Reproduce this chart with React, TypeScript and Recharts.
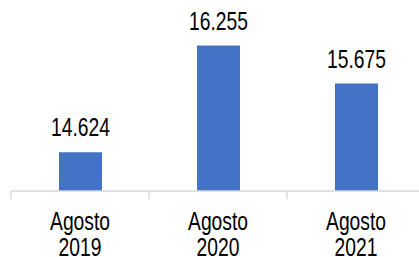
import React from 'react';
import { BarChart, Bar, XAxis, YAxis, LabelList } from 'recharts';

const categories = ['Agosto 2019', 'Agosto 2020', 'Agosto 2021'];
const values = [14624, 16255, 15675];

const data = categories.map((name, i) => ({ name, value: values[i] }));

const FONT = '"Liberation Sans", Arial, sans-serif';
const SQUEEZE = 0.77;
const AXIS_GRAY = '#d9d9d9';

const fmt = (v: any) => String(v).replace(/\B(?=(\d{3})+(?!\d))/g, '.');

// category label plus the boundary tick marks of each band
const CategoryTick = (props: any) => {
    const { x, y, payload, index, visibleTicksCount } = props;
    const half = payload.offset || 0;
    const lines = String(payload.value).split(' ');
    const isLast = index === visibleTicksCount - 1;
    return (
        <g>
            <line x1={x - half} x2={x - half} y1={y} y2={y + 8} stroke={AXIS_GRAY} strokeWidth={1.5} />
            {isLast && <line x1={x + half} x2={x + half} y1={y} y2={y + 8} stroke={AXIS_GRAY} strokeWidth={1.5} />}
            <g transform={`translate(${x},${y}) scale(${SQUEEZE},1)`}>
                <text textAnchor="middle" fill="#000" fontSize={25} fontFamily={FONT}>
                    {lines.map((l, i) => (
                        <tspan key={i} x={0} dy={i === 0 ? 39 : 26}>{l}</tspan>
                    ))}
                </text>
            </g>
        </g>
    );
};

const ValueLabel = (props: any) => {
    const { x, y, width, value } = props;
    return (
        <g transform={`translate(${Number(x) + Number(width) / 2},${Number(y) - 16}) scale(${SQUEEZE},1)`}>
            <text textAnchor="middle" fill="#000" fontSize={25} fontFamily={FONT}>
                {fmt(value)}
            </text>
        </g>
    );
};

export default function App() {
    return (
        <div style={{ position: 'absolute', left: 0, top: 0, width: 419, height: 257, overflow: 'hidden', background: '#fff' }}>
            <BarChart width={426} height={257} data={data} margin={{ top: 10, right: 1, bottom: 0, left: 11 }}>
                <XAxis
                    dataKey="name"
                    height={66}
                    axisLine={{ stroke: AXIS_GRAY, strokeWidth: 1.5 }}
                    tickLine={false}
                    tickSize={0}
                    tickMargin={0}
                    tick={<CategoryTick />}
                    interval={0}
                />
                <YAxis hide domain={[14030, 16800]} />
                <Bar dataKey="value" fill="#4472C4" barSize={43} isAnimationActive={false}>
                    <LabelList dataKey="value" content={<ValueLabel />} />
                </Bar>
            </BarChart>
        </div>
    );
}
